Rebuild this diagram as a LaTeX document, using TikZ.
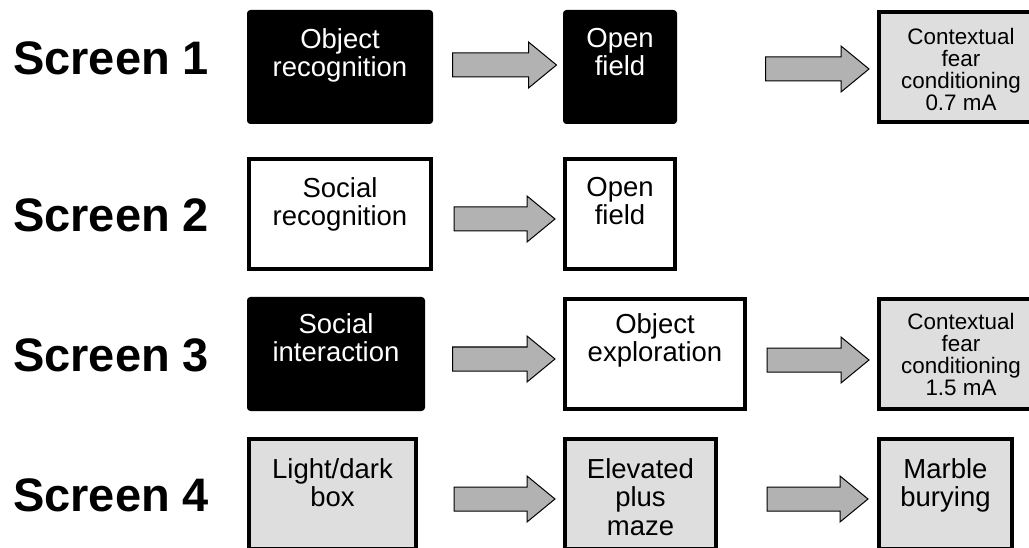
\documentclass[tikz,border=0pt]{standalone}
\usepackage{fontspec}
\setmainfont{Liberation Sans}
\usetikzlibrary{calc}

\definecolor{boxgrey}{gray}{0.87}
\definecolor{arrowgrey}{gray}{0.70}

\tikzset{
    screen/.style={anchor=west, inner sep=0pt, font=\fontsize{47}{50}\selectfont\bfseries},
    box/.style={rectangle, draw=black, line width=4pt, inner sep=0pt, minimum height=110pt},
    darkbox/.style={box, fill=black, line width=1pt, rounded corners=3pt, minimum height=113pt},
    openbox/.style={box, fill=white},
    greybox/.style={box, fill=boxgrey},
    boxtext/.style={anchor=north, align=center, inner sep=0pt, font=\fontsize{27.5}{28.5}\selectfont},
    smalltext/.style={boxtext, font=\fontsize{22.4}{22}\selectfont},
    blockarrow/.style={draw=black, fill=arrowgrey, line width=1pt, line join=miter,
        to path={($(\tikztostart)+(0,-12)$) -- ($(\tikztotarget)+(-28,-12)$)
            -- ($(\tikztotarget)+(-28,-23)$) -- (\tikztotarget)
            -- ($(\tikztotarget)+(-28,23)$) -- ($(\tikztotarget)+(-28,12)$)
            -- ($(\tikztostart)+(0,12)$) -- cycle}},
}

\begin{document}
\begin{tikzpicture}[x=1pt, y=-1pt]
    \clip (0,0) rectangle (1029,548);
    \fill[white] (0,0) rectangle (1029,548);

    \node[screen] (s1) at (13,58.5) {Screen 1};
    \node[screen] (s2) at (13,215.5) {Screen 2};
    \node[screen] (s3) at (13,355) {Screen 3};
    \node[screen] (s4) at (13,495) {Screen 4};

    \node[darkbox, minimum width=185pt] (objrec) at (340,67) {};
    \node[darkbox, minimum width=113pt] (field1) at (620,67) {};
    \node[greybox, minimum width=164pt] (fear1) at (961,67) {};
    \node[openbox, minimum width=182pt] (socrec) at (340,214) {};
    \node[openbox, minimum width=110pt] (field2) at (620,214) {};
    \node[darkbox, minimum width=177pt] (socint) at (336,354) {};
    \node[openbox, minimum width=180pt] (objexp) at (655,354) {};
    \node[greybox, minimum width=164pt] (fear3) at (961,354) {};
    \node[greybox, minimum width=167pt] (lightdark) at (332.5,494) {};
    \node[greybox, minimum width=151pt] (plusmaze) at (640.5,494) {};
    \node[greybox, minimum width=133pt] (marble) at (945.5,494) {};

    \node[boxtext, text=white] (objrec-t) at (objrec |- 0,28) {Object\\recognition};
    \node[boxtext, text=white] (field1-t) at (field1 |- 0,28) {Open\\field};
    \node[smalltext] (fear1-t) at (fear1 |- 0,28) {Contextual\\fear\\conditioning\\0.7 mA};
    \node[boxtext] (socrec-t) at (socrec |- 0,177) {Social\\recognition};
    \node[boxtext] (field2-t) at (field2 |- 0,177) {Open\\field};
    \node[boxtext, text=white] (socint-t) at (socint |- 0,313) {Social\\interaction};
    \node[boxtext] (objexp-t) at (objexp |- 0,313) {Object\\exploration};
    \node[smalltext] (fear3-t) at (fear3 |- 0,313) {Contextual\\fear\\conditioning\\1.5 mA};
    \node[boxtext] (lightdark-t) at (lightdark |- 0,458) {Light/dark\\box};
    \node[boxtext] (plusmaze-t) at (plusmaze |- 0,458) {Elevated\\plus\\maze};
    \node[boxtext] (marble-t) at (marble |- 0,458) {Marble\\burying};

    \draw[blockarrow] ([shift={(19.5,-2)}]objrec.east) to ([shift={(-6.5,-2)}]field1.west);
    \draw[blockarrow] ([shift={(88.5,2)}]field1.east) to ([shift={(-8,2)}]fear1.west);
    \draw[blockarrow] ([shift={(21,5)}]socrec.east) to ([shift={(-8,5)}]field2.west);
    \draw[blockarrow] ([shift={(27.5,5)}]socint.east) to ([shift={(-8,5)}]objexp.west);
    \draw[blockarrow] ([shift={(20,6)}]objexp.east) to ([shift={(-8,6)}]fear3.west);
    \draw[blockarrow] ([shift={(36,5)}]lightdark.east) to ([shift={(-8,5)}]plusmaze.west);
    \draw[blockarrow] ([shift={(49,5)}]plusmaze.east) to ([shift={(-9,5)}]marble.west);
\end{tikzpicture}
\end{document}
